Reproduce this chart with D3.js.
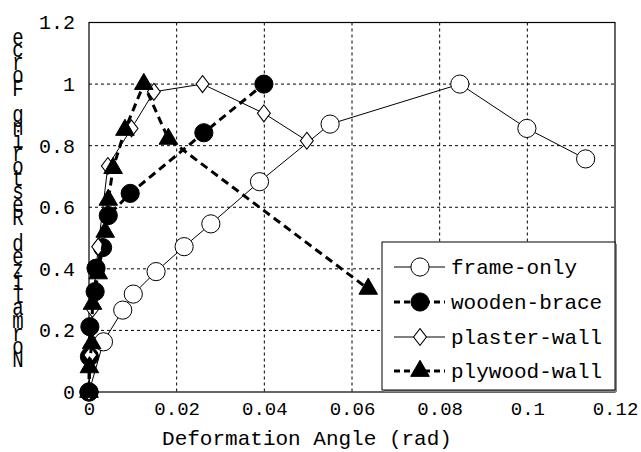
<!DOCTYPE html>
<html><head><meta charset="utf-8">
<script src="https://cdn.jsdelivr.net/npm/d3@7"></script>
<style>body{margin:0;background:#fff}svg{display:block}text{font-family:"Liberation Mono","DejaVu Sans Mono",monospace;fill:#000}</style>
</head><body><svg id="c" width="641" height="452"></svg>
<script>
const xTicks = [0, 0.02, 0.04, 0.06, 0.08, 0.1, 0.12];
const yTicks = [0, 0.2, 0.4, 0.6, 0.8, 1, 1.2];
const xTickLabels = ["0", "0.02", "0.04", "0.06", "0.08", "0.1", "0.12"];
const yTickLabels = ["0", "0.2", "0.4", "0.6", "0.8", "1", "1.2"];
const xTitle = "Deformation Angle (rad)";
const yTitle = "Normalized Restoring Force";
const seriesNames = ["frame-only", "wooden-brace", "plaster-wall", "plywood-wall"];

const frameOnlyX = [0, 0.0033, 0.0077, 0.0101, 0.0153, 0.0217, 0.0278, 0.0389, 0.055, 0.0846, 0.0999, 0.1133];
const frameOnlyY = [0, 0.163, 0.266, 0.318, 0.391, 0.472, 0.546, 0.683, 0.870, 1.0, 0.856, 0.757];

const woodenBraceX = [0, 0.0001, 0.0002, 0.0014, 0.0016, 0.0031, 0.0044, 0.0094, 0.0262, 0.0399];
const woodenBraceY = [0, 0.115, 0.212, 0.326, 0.402, 0.469, 0.573, 0.645, 0.842, 1.0];

const plasterWallX = [0, 0.0003, 0.0008, 0.0021, 0.0043, 0.0097, 0.0148, 0.0259, 0.0399, 0.0497];
const plasterWallY = [0, 0.12, 0.27, 0.472, 0.734, 0.856, 0.975, 1.0, 0.905, 0.816];

const plywoodWallX = [0, 0.0001, 0.0006, 0.0008, 0.0021, 0.0037, 0.0044, 0.0055, 0.0082, 0.0125, 0.0181, 0.0637];
const plywoodWallY = [0, 0.08, 0.158, 0.286, 0.385, 0.52, 0.624, 0.727, 0.851, 1.0, 0.822, 0.335];

const svg = d3.select("#c");
const L = 89, R = 615, T = 22.5, B = 392;
const x = d3.scaleLinear().domain([0, 0.12]).range([L, R]);
const y = d3.scaleLinear().domain([0, 1.2]).range([B, T]);

// grid
const g = svg.append("g");
g.selectAll(".gx").data(xTicks.slice(1, -1)).join("line")
  .attr("x1", d => x(d)).attr("x2", d => x(d)).attr("y1", T).attr("y2", B)
  .attr("stroke", "#000").attr("stroke-width", 1).attr("stroke-dasharray", "3,3");
g.selectAll(".gy").data(yTicks.slice(1, -1)).join("line")
  .attr("y1", d => y(d)).attr("y2", d => y(d)).attr("x1", L).attr("x2", R)
  .attr("stroke", "#000").attr("stroke-width", 1).attr("stroke-dasharray", "3,3");

// frame
svg.append("rect").attr("x", L).attr("y", T).attr("width", R - L).attr("height", B - T)
  .attr("fill", "none").attr("stroke", "#000").attr("stroke-width", 1.2);

// axes (labels only)
const xAxis = d3.axisBottom(x).tickValues(xTicks).tickSize(0).tickPadding(10)
  .tickFormat((d, i) => xTickLabels[i]);
const ax = svg.append("g").attr("transform", `translate(0,${B})`).call(xAxis);
ax.select(".domain").remove();
ax.selectAll("text").attr("font-size", 19).attr("font-family", "Liberation Mono");

const yAxis = d3.axisLeft(y).tickValues(yTicks).tickSize(0).tickPadding(14)
  .tickFormat((d, i) => yTickLabels[i]);
const ay = svg.append("g").attr("transform", `translate(${L},0)`).call(yAxis);
ay.select(".domain").remove();
ay.selectAll("text").attr("font-size", 20).attr("font-family", "Liberation Mono");

svg.append("text").attr("x", 307).attr("y", 445).attr("text-anchor", "middle")
  .attr("font-size", 21).text(xTitle);

// y title: stacked upright characters, bottom to top (as in the reference)
const chars = Array.from(yTitle);
svg.append("g").selectAll("text").data(chars).join("text")
  .attr("transform", (d, i) => `translate(18,${367 - i * 12.9}) scale(1,1.25)`)
  .attr("text-anchor", "middle").attr("font-size", 19).text(d => d);

// series
const series = [
  {name: seriesNames[0], xs: frameOnlyX, ys: frameOnlyY, dash: null, w: 1, marker: "circle", fill: "#fff"},
  {name: seriesNames[1], xs: woodenBraceX, ys: woodenBraceY, dash: "8,5", w: 3, marker: "circle", fill: "#000"},
  {name: seriesNames[2], xs: plasterWallX, ys: plasterWallY, dash: null, w: 1, marker: "diamond", fill: "#fff"},
  {name: seriesNames[3], xs: plywoodWallX, ys: plywoodWallY, dash: "8,5", w: 3, marker: "triangle", fill: "#000"}
];
const symType = {circle: d3.symbolCircle, diamond: d3.symbolDiamond, triangle: d3.symbolTriangle};
const symSize = {circle: 260, diamond: 110, triangle: 150};
const line = d3.line().x(d => x(d[0])).y(d => y(d[1]));

series.forEach(s => {
  const pts = s.xs.map((v, i) => [v, s.ys[i]]);
  svg.append("path").datum(pts).attr("d", line).attr("fill", "none")
    .attr("stroke", "#000").attr("stroke-width", s.w)
    .attr("stroke-dasharray", s.dash);
  const sym = d3.symbol().type(symType[s.marker]).size(symSize[s.marker]);
  svg.append("g").selectAll("path").data(pts).join("path")
    .attr("transform", d => `translate(${x(d[0])},${y(d[1])})` + (s.marker === "diamond" ? " scale(1.15,0.87)" : ""))
    .attr("d", sym).attr("fill", s.fill).attr("stroke", "#000").attr("stroke-width", 1);
});

// legend
const lg = svg.append("g");
lg.append("rect").attr("x", 384).attr("y", 244).attr("width", 233).attr("height", 148).attr("fill", "#888");
lg.append("rect").attr("x", 382).attr("y", 242).attr("width", 233).attr("height", 148)
  .attr("fill", "#fff").attr("stroke", "#000").attr("stroke-width", 1);
const rowY = [267, 302, 337, 371];
series.forEach((s, i) => {
  const yy = rowY[i];
  lg.append("line").attr("x1", 394).attr("x2", 445).attr("y1", yy).attr("y2", yy)
    .attr("stroke", "#000").attr("stroke-width", s.w).attr("stroke-dasharray", s.dash ? "6,4" : null);
  const sym = d3.symbol().type(symType[s.marker]).size(symSize[s.marker]);
  lg.append("path").attr("transform", `translate(420,${yy})` + (s.marker === "diamond" ? " scale(1.15,0.87)" : ""))
    .attr("d", sym).attr("fill", s.fill).attr("stroke", "#000");
  lg.append("text").attr("x", 451).attr("y", yy).attr("dy", "0.35em").attr("font-size", 21).text(s.name);
});
</script></body></html>
